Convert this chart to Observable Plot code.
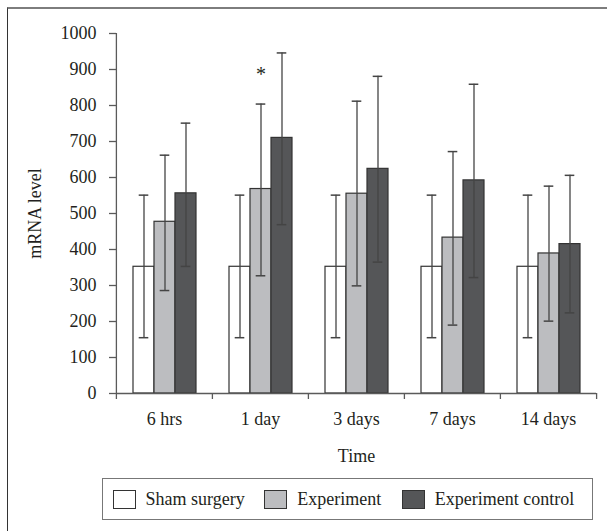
<!DOCTYPE html>
<html>
<head>
<meta charset="utf-8">
<script src="https://cdn.jsdelivr.net/npm/d3@7"></script>
<script src="https://cdn.jsdelivr.net/npm/@observablehq/plot@0.6"></script>
<style>
  body { margin: 0; background: #fff; color: #231f20;
         font-family: "Liberation Serif", "Times New Roman", Tinos, "Nimbus Roman", "Noto Serif", "DejaVu Serif", serif; }
  #wrap { position: relative; width: 607px; height: 531px; overflow: hidden; background: #fff; }
  #chart { position: absolute; left: 0; top: 0; }
  #border { position: absolute; left: 7px; top: 7px; width: 700px; height: 600px;
            border-top: 2px solid #7d7d7d; border-left: 1.5px solid #333; pointer-events: none; z-index: 2; }
  #legend { position: absolute; left: 102px; top: 478px; width: 489px; height: 40px;
            border: 1px solid #777; font-size: 18px; }
  .item { position: absolute; top: 0; height: 40px; display: flex; align-items: center; white-space: nowrap; }
  .sw { width: 21px; height: 17px; border: 1px solid #333; margin-right: 10px; box-sizing: content-box; }
</style>
</head>
<body>
<div id="wrap">
  <div id="chart"></div>
  <div id="legend"></div>
  <div id="border"></div>
</div>
<script>
// ---- data ----
const categories = ["6 hrs", "1 day", "3 days", "7 days", "14 days"];
const series = ["Sham surgery", "Experiment", "Experiment control"];
const colors = ["#ffffff", "#bcbdc0", "#555658"];

const shamMean = [352, 352, 352, 352, 352];
const shamLow  = [155, 155, 155, 155, 155];
const shamHigh = [551, 551, 551, 551, 551];

const expMean = [477, 568, 555, 433, 389];
const expLow  = [286, 327, 299, 190, 201];
const expHigh = [662, 804, 812, 672, 576];

const ctrlMean = [556, 710, 624, 592, 415];
const ctrlLow  = [353, 469, 365, 322, 224];
const ctrlHigh = [751, 946, 881, 859, 606];

const yTicks = [0, 100, 200, 300, 400, 500, 600, 700, 800, 900, 1000];

const starGroup = ["1 day"];
const starSeries = ["Experiment"];
const starValue = [885];

// ---- build table ----
const means = [shamMean, expMean, ctrlMean];
const lows = [shamLow, expLow, ctrlLow];
const highs = [shamHigh, expHigh, ctrlHigh];
const rows = [];
categories.forEach((c, i) => {
  series.forEach((s, j) => {
    rows.push({group: c, series: s, mean: means[j][i], low: lows[j][i], high: highs[j][i]});
  });
});
const stars = starGroup.map((g, i) => ({group: g, series: starSeries[i], y: starValue[i]}));

// ---- layout ----
const W = 607, H = 470, mL = 115, mR = 11, mT = 33, mB = 77;
const bw = (W - mL - mR) / categories.length;
const axisColor = "#5a5a5a";
const ebColor = "#444";
const capInset = 5.7;
const serif = '"Liberation Serif", "Times New Roman", Tinos, "Nimbus Roman", "Noto Serif", "DejaVu Serif", serif';

const chart = Plot.plot({
  width: W, height: H,
  marginLeft: mL, marginRight: mR, marginTop: mT, marginBottom: mB,
  style: {fontFamily: serif, fontSize: "18px", color: "#231f20", background: "transparent"},
  fx: {domain: categories, padding: 0, axis: null},
  x: {domain: series, paddingInner: 0, paddingOuter: 0.74, axis: null},
  y: {domain: [0, 1000], axis: null},
  color: {domain: series, range: colors},
  marks: [
    Plot.barY(rows, {fx: "group", x: "series", y: "mean", fill: "series", stroke: "#333", strokeWidth: 1.2}),
    Plot.ruleX(rows, {fx: "group", x: "series", y1: "low", y2: "high", stroke: ebColor, strokeWidth: 1.3}),
    Plot.tickY(rows, {fx: "group", x: "series", y: "high", stroke: ebColor, strokeWidth: 1.5, insetLeft: capInset, insetRight: capInset}),
    Plot.tickY(rows, {fx: "group", x: "series", y: "low", stroke: ebColor, strokeWidth: 1.5, insetLeft: capInset, insetRight: capInset}),
    Plot.ruleY([0], {stroke: axisColor, strokeWidth: 1.3}),
    // y-axis line on the first facet's left edge
    Plot.ruleX([categories[0]], {fx: d => d, x: null, dx: -bw / 2, stroke: axisColor, strokeWidth: 1.3}),
    // category boundary ticks
    Plot.ruleX(categories, {fx: d => d, x: null, y1: 0, y2: 0, insetBottom: -6, dx: -bw / 2, stroke: axisColor, strokeWidth: 1.3}),
    Plot.ruleX([categories[categories.length - 1]], {fx: d => d, x: null, y1: 0, y2: 0, insetBottom: -6, dx: bw / 2, stroke: axisColor, strokeWidth: 1.3}),
    Plot.axisY(yTicks, {tickSize: 7, tickPadding: 13, stroke: axisColor, strokeWidth: 1.3, tickFormat: d => String(d),
      fontFamily: serif, fontSize: 18,
      label: "mRNA level", labelArrow: "none", labelAnchor: "center", labelOffset: 88}),
    Plot.axisFx({anchor: "bottom", tickSize: 0, tickPadding: 18.5, fontFamily: serif, fontSize: 18,
      label: "Time", labelArrow: "none", labelAnchor: "center", labelOffset: 68}),
    Plot.text(stars, {fx: "group", x: "series", y: "y", text: () => "*", fontSize: 20, fontFamily: serif, lineAnchor: "middle"})
  ]
});
document.getElementById("chart").appendChild(chart);

// ---- legend ----
const legendLeft = [9.5, 161.3, 298.7];
const legend = document.getElementById("legend");
series.forEach((s, i) => {
  const it = document.createElement("div");
  it.className = "item";
  it.style.left = legendLeft[i] + "px";
  const sw = document.createElement("div");
  sw.className = "sw";
  sw.style.background = colors[i];
  const tx = document.createElement("span");
  tx.textContent = s;
  it.appendChild(sw);
  it.appendChild(tx);
  legend.appendChild(it);
});
</script>
</body>
</html>
